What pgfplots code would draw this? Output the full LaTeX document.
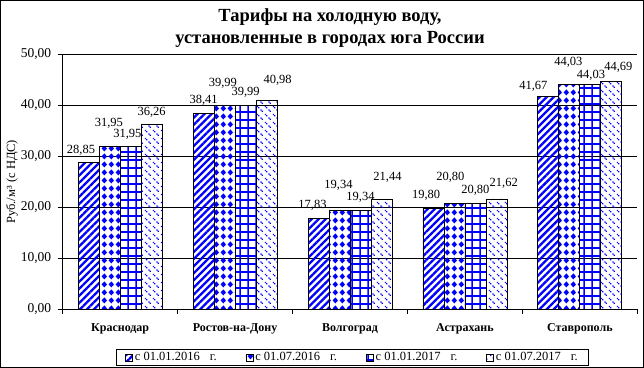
\documentclass[border=0pt]{standalone}
\usepackage{fontspec}
\setmainfont{Liberation Serif}
\usepackage{pgfplots}
\usepackage{pgfplotstable}
\pgfplotsset{compat=1.18}
\usetikzlibrary{patterns,patterns.meta}

\pgfdeclarepatternformonly{mydiamonds}{\pgfqpoint{0pt}{0pt}}{\pgfqpoint{7.3pt}{8pt}}{\pgfqpoint{7.3pt}{8pt}}{%
  \pgfpathmoveto{\pgfqpoint{3.65pt}{0.6pt}}%
  \pgfpathlineto{\pgfqpoint{6.6pt}{4pt}}%
  \pgfpathlineto{\pgfqpoint{3.65pt}{7.4pt}}%
  \pgfpathlineto{\pgfqpoint{0.7pt}{4pt}}%
  \pgfpathclose\pgfusepath{fill}}
\pgfdeclarepatternformonly{mygrid}{\pgfqpoint{-0.6pt}{-0.6pt}}{\pgfqpoint{8.6pt}{8.6pt}}{\pgfqpoint{8pt}{8pt}}{%
  \pgfsetlinewidth{1.1pt}%
  \pgfpathmoveto{\pgfqpoint{0pt}{0pt}}\pgfpathlineto{\pgfqpoint{8pt}{0pt}}%
  \pgfpathmoveto{\pgfqpoint{0pt}{0pt}}\pgfpathlineto{\pgfqpoint{0pt}{8pt}}%
  \pgfusepath{stroke}}
\pgfdeclarepatternformonly{myconfetti}{\pgfqpoint{0pt}{0pt}}{\pgfqpoint{8pt}{8pt}}{\pgfqpoint{8pt}{8pt}}{%
  \pgfpathrectangle{\pgfqpoint{1pt}{5.5pt}}{\pgfqpoint{1.4pt}{1.4pt}}%
  \pgfpathrectangle{\pgfqpoint{2.3pt}{4.2pt}}{\pgfqpoint{1.4pt}{1.4pt}}%
  \pgfpathrectangle{\pgfqpoint{5pt}{1.5pt}}{\pgfqpoint{1.4pt}{1.4pt}}%
  \pgfpathrectangle{\pgfqpoint{6.3pt}{0.2pt}}{\pgfqpoint{1.4pt}{1.4pt}}%
  \pgfusepath{fill}}

\pgfplotstableread{
x y dx dy
0 28.85 -7.7 12.2
1 38.41 0 13.5
2 17.83 -6 12.5
3 19.80 -7.3 13.2
4 41.67 -15 10.2
}\seriesA
\pgfplotstableread{
x y dx dy
0 31.95 -0.8 23.1
1 39.99 -1.7 22.2
2 19.34 -1 25.6
3 20.80 -4 25.8
4 44.03 -1 23
}\seriesB
\pgfplotstableread{
x y dx dy
0 31.95 -3.3 12.1
1 39.99 0 13.2
2 19.34 0 13.3
3 20.80 0 13.1
4 44.03 0.7 9.5
}\seriesC
\pgfplotstableread{
x y dx dy
0 36.26 0 12.1
1 40.98 11 20.4
2 21.44 6 22.6
3 21.62 7.3 15.7
4 44.69 7 14.5
}\seriesD

\begin{document}
\begin{tikzpicture}
\begin{axis}[
  scale only axis,
  width=574.6pt, height=254.5pt,
  clip=false,
  xmin=-0.5, xmax=4.5, ymin=0, ymax=50,
  ybar=0pt, bar width=21pt,
  axis x line*=bottom, axis y line*=left,
  axis line style={line width=0.8pt, black},
  tick align=outside,
  major tick length=5pt,
  tick style={black, line width=0.8pt},
  ytick={0,10,20,30,40,50},
  ymajorgrids,
  grid style={black, line width=0.8pt},
  yticklabel style={font=\fontsize{13.5}{15}\selectfont, xshift=-3pt,
    /pgf/number format/.cd, fixed, fixed zerofill, precision=2, use comma, assume math mode=true},
  xtick={-0.5,0.5,1.5,2.5,3.5,4.5},
  x tick label as interval,
  xticklabels={Краснодар,Ростов-на-Дону,Волгоград,Астрахань,Ставрополь},
  xticklabel style={font=\bfseries\fontsize{12}{14}\selectfont, yshift=-6pt},
  ylabel={Руб./м³ (с НДС)},
  ylabel style={at={(axis description cs:-0.0882,0.5)}, anchor=center, font=\fontsize{12.5}{14}\selectfont},
  title={Тарифы на холодную воду,\\установленные в городах юга России},
  title style={at={(axis description cs:0.4652,1.082)}, anchor=center, align=center,
    font=\bfseries\fontsize{18.5}{22}\selectfont},
  point meta=y,
  nodes near coords={\pgfmathprintnumber[fixed,fixed zerofill,precision=2,use comma,assume math mode=true]{\pgfplotspointmeta}},
  visualization depends on={\thisrow{dx} \as \mydx},
  visualization depends on={\thisrow{dy} \as \mydy},
  nodes near coords style={anchor=center, xshift=\mydx pt, yshift=\mydy pt, font=\fontsize{12.5}{14}\selectfont, inner sep=0pt},
  legend columns=4,
  legend style={at={(axis description cs:0.5044,-0.1906)}, anchor=center,
    draw=black, line width=0.8pt, font=\fontsize{12.5}{14}\selectfont,
    inner xsep=9pt, inner ysep=1pt,
    /tikz/every even column/.append style={column sep=27pt}},
  mylegend/.style={legend image code/.code={\draw[##1, line width=0.6pt] (0pt,-3.5pt) rectangle (7pt,3.5pt);}},
]
\addplot[draw=black, line width=0.8pt, pattern={Lines[angle=45,distance=5pt,line width=2.3pt]}, pattern color=blue, mylegend]
  table[x=x,y=y] {\seriesA};
\addplot[draw=black, line width=0.8pt, pattern=mydiamonds, pattern color=blue, mylegend]
  table[x=x,y=y] {\seriesB};
\addplot[draw=black, line width=0.8pt, pattern=mygrid, pattern color=blue, mylegend]
  table[x=x,y=y] {\seriesC};
\addplot[draw=black, line width=0.8pt, pattern=myconfetti, pattern color=blue, mylegend]
  table[x=x,y=y] {\seriesD};
\legend{с 01.01.2016\hspace{10pt}г., с 01.07.2016\hspace{10pt}г., с 01.01.2017\hspace{10pt}г., с 01.07.2017\hspace{10pt}г.}
\draw[line width=1pt] (rel axis cs:-0.10825,-0.22986) rectangle (rel axis cs:1.01079,1.21218);
\end{axis}
\end{tikzpicture}
\end{document}
